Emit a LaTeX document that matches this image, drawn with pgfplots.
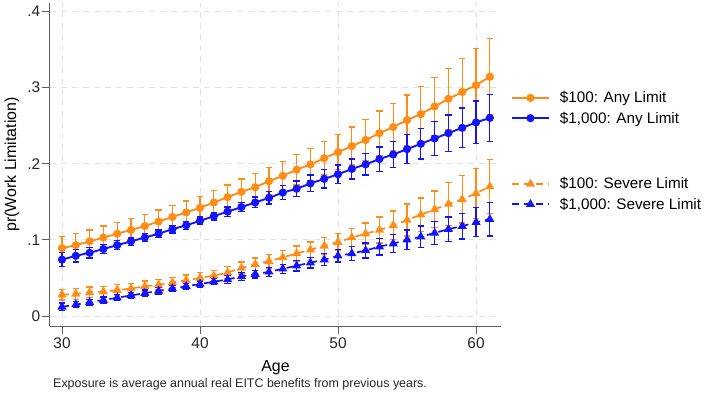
\documentclass[border=0pt]{standalone}
\usepackage{pgfplots}
\usepackage{pgfplotstable}
\pgfplotsset{compat=1.18}
\usepackage{fontspec}
\setmainfont{Liberation Sans}

\definecolor{stOrange}{RGB}{255,140,20}
\definecolor{stBlue}{RGB}{20,20,250}
\definecolor{axGray}{RGB}{95,95,95}
\definecolor{gridGray}{RGB}{225,225,225}

% age, predicted probability, half-width of the confidence interval
\pgfplotstableread{
age y e
30 .089 .015
31 .093 .015
32 .098 .015
33 .103 .015
34 .108 .015
35 .113 .015
36 .118 .015
37 .124 .015
38 .130 .015
39 .136 .015
40 .142 .015
41 .149 .016
42 .156 .016
43 .163 .017
44 .169 .018
45 .177 .018
46 .184 .019
47 .192 .020
48 .199 .021
49 .207 .022
50 .215 .023
51 .223 .025
52 .231 .027
53 .240 .029
54 .248 .031
55 .257 .033
56 .265 .036
57 .275 .038
58 .285 .040
59 .294 .044
60 .303 .048
61 .314 .050
}\anyLow

\pgfplotstableread{
age y e
30 .074 .009
31 .079 .008
32 .083 .007
33 .088 .006
34 .093 .006
35 .098 .005
36 .103 .005
37 .108 .005
38 .114 .005
39 .119 .005
40 .125 .005
41 .131 .005
42 .137 .006
43 .143 .006
44 .149 .007
45 .155 .008
46 .162 .009
47 .167 .010
48 .174 .011
49 .180 .012
50 .186 .012
51 .193 .013
52 .199 .014
53 .206 .016
54 .212 .017
55 .219 .019
56 .226 .020
57 .233 .022
58 .240 .024
59 .247 .026
60 .254 .028
61 .260 .031
}\anyHigh

\pgfplotstableread{
age y e
30 .028 .007
31 .029 .007
32 .031 .007
33 .032 .007
34 .034 .007
35 .036 .007
36 .039 .007
37 .041 .007
38 .044 .007
39 .047 .007
40 .050 .007
41 .053 .007
42 .057 .008
43 .063 .008
44 .068 .008
45 .072 .009
46 .077 .009
47 .082 .010
48 .087 .010
49 .092 .011
50 .097 .011
51 .103 .012
52 .108 .014
53 .113 .017
54 .119 .019
55 .126 .021
56 .133 .022
57 .140 .024
58 .147 .028
59 .153 .031
60 .161 .033
61 .170 .035
}\sevLow

\pgfplotstableread{
age y e
30 .012 .005
31 .015 .004
32 .018 .004
33 .021 .004
34 .024 .004
35 .027 .004
36 .030 .004
37 .033 .004
38 .036 .004
39 .039 .004
40 .042 .004
41 .045 .004
42 .048 .005
43 .052 .005
44 .055 .005
45 .058 .006
46 .062 .006
47 .066 .007
48 .070 .007
49 .074 .008
50 .079 .008
51 .082 .009
52 .086 .010
53 .091 .011
54 .095 .012
55 .100 .013
56 .104 .014
57 .109 .015
58 .114 .016
59 .118 .017
60 .123 .019
61 .127 .022
}\sevHigh

\pgfplotsset{
  ci/.style={
    error bars/.cd,
      y dir=both, y explicit,
      error bar style={solid, line width=1.3bp, color=#1},
      error mark=-,
      error mark options={solid, rotate=90, line width=1.3bp, mark size=3.2bp, color=#1},
  },
  anyline/.style={solid, line width=1.9bp, mark=*, mark size=3.1bp, mark options={solid}},
  sevline/.style={dash pattern=on 7bp off 5bp, line width=1.7bp, mark=triangle*, mark size=3.6bp, mark options={solid}},
}
% blank legend rows separating the two groups
\newcommand{\gap}{\rule{0pt}{13.75bp}}

\begin{document}
\begin{tikzpicture}
\useasboundingbox (-50bp,-68bp) rectangle (659bp,326bp);
\begin{axis}[
  at={(0,0)}, anchor=south west,
  scale only axis, width=451bp, height=323bp,
  xmin=29.13, xmax=61.81, ymin=-0.0131, ymax=0.4108,
  axis x line*=bottom, axis y line*=left,
  axis line style={axGray, line width=1bp, -},
  xtick={30,40,50,60}, xticklabels={30,40,50,60},
  ytick={0,0.1,0.2,0.3,0.4}, yticklabels={0,.1,.2,.3,.4},
  tick align=outside, major tick length=8bp,
  tick style={axGray, line width=1bp},
  grid=major,
  major grid style={gridGray, line width=0.9bp, dash pattern=on 6bp off 5bp},
  ticklabel style={font=\fontsize{15.5}{18}\selectfont, text=black!85},
  yticklabel style={inner sep=1.5bp},
  xticklabel style={inner sep=4bp},
  xlabel={Age},
  xlabel style={at={(axis description cs:0.5,-0.130)}, anchor=center, font=\fontsize{16}{19}\selectfont},
  ylabel={pr(Work Limitation)},
  ylabel style={at={(axis description cs:-0.0843,0.5)}, anchor=center, font=\fontsize{16}{19}\selectfont},
  clip=false,
  legend image code/.code={\draw[mark repeat=2,mark phase=2,#1] plot coordinates {(0bp,0bp) (18.5bp,0bp) (37bp,0bp)};},
  legend cell align=left,
  legend style={draw=none, fill=none, at={(1.0222,0.726)}, anchor=north west,
    inner sep=0pt, outer sep=0pt,
    font=\fontsize{15.3}{18}\selectfont, row sep=7.5bp,
    /tikz/every odd column/.append style={column sep=10bp},
    nodes={inner sep=0pt}},
]
\addplot[stOrange, anyline, ci=stOrange] table[x=age, y=y, y error=e] {\anyLow};
\addlegendentry{\$100: Any Limit}
\addplot[stBlue, anyline, ci=stBlue] table[x=age, y=y, y error=e] {\anyHigh};
\addlegendentry{\$1,000: Any Limit}
\addlegendimage{empty legend}
\addlegendentry{\gap}
\addlegendimage{empty legend}
\addlegendentry{\gap}
\addplot[stOrange, sevline, ci=stOrange] table[x=age, y=y, y error=e] {\sevLow};
\addlegendentry{\$100: Severe Limit}
\addplot[stBlue, sevline, ci=stBlue] table[x=age, y=y, y error=e] {\sevHigh};
\addlegendentry{\$1,000: Severe Limit}
\end{axis}
\node[anchor=west, font=\fontsize{12.5}{14}\selectfont, text=black!85, inner sep=0pt] at (3bp,-58bp) {Exposure is average annual real EITC benefits from previous years.};
\end{tikzpicture}
\end{document}
